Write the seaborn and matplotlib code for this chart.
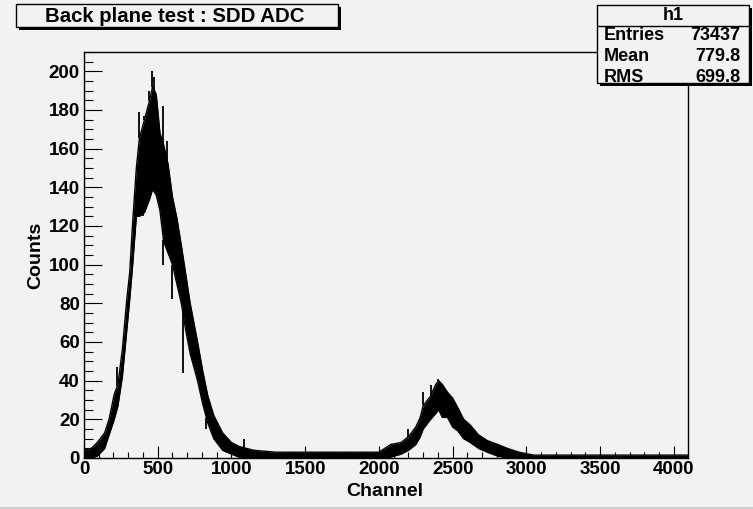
import numpy as np
import pandas as pd
import matplotlib
matplotlib.use("Agg")
import matplotlib.pyplot as plt
import seaborn as sns
from matplotlib.patches import Rectangle
from matplotlib.lines import Line2D
from matplotlib.ticker import MultipleLocator, FixedLocator

# ---------------- data ----------------
title = "Back plane test : SDD ADC"
x_label = "Channel"
y_label = "Counts"
stats_name = "h1"
stats_labels = ["Entries", "Mean", "RMS"]
stats_values = ["73437", "779.8", "699.8"]

# noise band of the histogram: lower / upper edge of the bin contents
channel = [0, 50, 90, 140, 170, 205, 230, 260, 290, 310, 330, 355, 375, 410,
           445, 465, 490, 515, 540, 570, 600, 630, 660, 690, 720, 770, 805,
           840, 880, 940, 1000, 1050, 1150, 1300, 2000, 2080, 2150, 2200,
           2250, 2280, 2300, 2350, 2385, 2405, 2430, 2465, 2500, 2535, 2575,
           2620, 2675, 2735, 2805, 2870, 2950, 3050, 4096]
count_low = [0, 0, 1, 5, 12, 20, 27, 42, 66, 82, 100, 125, 125, 127,
             134, 139, 136, 128, 112, 106, 100, 90, 80, 66, 54, 40, 28,
             18, 10, 4, 2, 0.5, 0, 0, 0, 0.5, 2, 4,
             7, 11, 15, 20, 23, 25, 21, 21, 16, 14, 10,
             8, 5, 3, 1, 0, 0, 0, 0]
count_high = [4, 5, 8, 13, 20, 33, 38, 56, 82, 96, 122, 150, 165, 175,
              185, 192, 188, 168, 162, 152, 135, 124, 110, 95, 80, 60, 45,
              32, 22, 13, 8, 6, 4, 3, 3, 7, 8, 11,
              16, 21, 27, 32, 38, 40, 38, 34, 31, 26, 20,
              17, 12, 9, 7, 5, 3, 1.5, 1.5]

# single bins sticking out above / below the band
spike_channel = [227, 376, 410, 444, 464, 478, 539, 566, 1083, 2200, 2302, 2350, 2404]
spike_count = [47, 179, 177, 190, 200, 197, 182, 164, 10, 15, 34, 38, 41]
dip_channel = [403, 539, 600, 668, 830]
dip_count = [125, 100, 82, 44, 15]

x_ticks = [0, 500, 1000, 1500, 2000, 2500, 3000, 3500, 4000]
y_ticks = [0, 20, 40, 60, 80, 100, 120, 140, 160, 180, 200]

# ---------------- styling ----------------
W, H = 753, 509
bg = "#f2f2f2"
sns.set_theme(style="ticks")
plt.rcParams["font.family"] = ["Liberation Sans", "DejaVu Sans"]
plt.rcParams["font.weight"] = "bold"

fig = plt.figure(figsize=(W / 100, H / 100), dpi=100, facecolor=bg)


def fx(px):
    return px / W


def fy(py):
    return 1 - py / H


ax = fig.add_axes([fx(84), fy(458), fx(688) - fx(84), fy(52) - fy(458)])
ax.set_facecolor(bg)

df = pd.DataFrame({"channel": channel, "low": count_low, "high": count_high})

ax.fill_between(df["channel"], df["low"], df["high"], color="black", lw=0)
sns.lineplot(data=df, x="channel", y="high", ax=ax, color="black", lw=1.0,
             estimator=None, sort=False)
sns.lineplot(data=df, x="channel", y="low", ax=ax, color="black", lw=1.0,
             estimator=None, sort=False)

sp_base = np.interp(spike_channel, channel, count_high)
ax.vlines(spike_channel, sp_base, spike_count, color="black", lw=1.3)
dp_top = np.interp(dip_channel, channel, count_low)
ax.vlines(dip_channel, dip_count, dp_top, color="black", lw=1.3)

ax.set_xlim(0, 4096)
ax.set_ylim(0, 210)
ax.xaxis.set_major_locator(FixedLocator(x_ticks))
ax.yaxis.set_major_locator(FixedLocator(y_ticks))
ax.xaxis.set_minor_locator(MultipleLocator(100))
ax.yaxis.set_minor_locator(MultipleLocator(5))
ax.set_xticklabels([str(v) for v in x_ticks])
ax.set_yticklabels([str(v) for v in y_ticks])

ax.tick_params(axis="x", which="major", direction="in", length=8.6, width=0.8,
               color="black", labelsize=13.5, pad=2, top=False)
ax.tick_params(axis="x", which="minor", direction="in", length=4.3, width=0.8,
               color="black", top=False)
ax.tick_params(axis="y", which="major", direction="in", length=13, width=0.8,
               color="black", labelsize=13.5, pad=3, right=False)
ax.tick_params(axis="y", which="minor", direction="in", length=6.5, width=0.8,
               color="black", right=False)
for lab in ax.get_xticklabels() + ax.get_yticklabels():
    lab.set_fontweight("bold")
    lab.set_color("black")

for s in ax.spines.values():
    s.set_visible(True)
    s.set_color("black")
    s.set_linewidth(1.0)

ax.set_xlabel("")
ax.set_ylabel("")
fig.text(fx(385), fy(491), x_label, ha="center", va="center",
         fontsize=14, fontweight="bold", color="black")
fig.text(fx(36), fy(255), y_label, ha="center", va="center", rotation=90,
         fontsize=14, fontweight="bold", color="black")


# ---------------- boxes ----------------
def shadow_box(x0, y0, x1, y1, off=3):
    fig.add_artist(Rectangle((fx(x0 + off), fy(y1 + off)), fx(x1 - x0), fy(y0) - fy(y1),
                             transform=fig.transFigure, facecolor="black",
                             edgecolor="black", lw=0))
    fig.add_artist(Rectangle((fx(x0), fy(y1)), fx(x1 - x0), fy(y0) - fy(y1),
                             transform=fig.transFigure, facecolor=bg,
                             edgecolor="black", lw=1.0))


shadow_box(16, 4, 338, 27)
fig.text(fx(175), fy(16), title, ha="center", va="center",
         fontsize=14.7, fontweight="bold", color="black")

shadow_box(597, 5, 749, 83)
fig.add_artist(Line2D([fx(597), fx(749)], [fy(26), fy(26)],
                      transform=fig.transFigure, color="black", lw=1.0))
fig.text(fx(673), fy(16), stats_name, ha="center", va="center",
         fontsize=13, fontweight="bold", color="black")
for i, (lab, val) in enumerate(zip(stats_labels, stats_values)):
    yy = 36 + i * 20.5
    fig.text(fx(604), fy(yy), lab, ha="left", va="center",
             fontsize=13, fontweight="bold", color="black")
    fig.text(fx(740), fy(yy), val, ha="right", va="center",
             fontsize=13, fontweight="bold", color="black")

# canvas border line at the bottom
fig.add_artist(Line2D([0, 1], [fy(507.5), fy(507.5)], transform=fig.transFigure,
                      color="#c8c8c8", lw=1.2))

fig.savefig("out.png", dpi=100, facecolor=bg)
